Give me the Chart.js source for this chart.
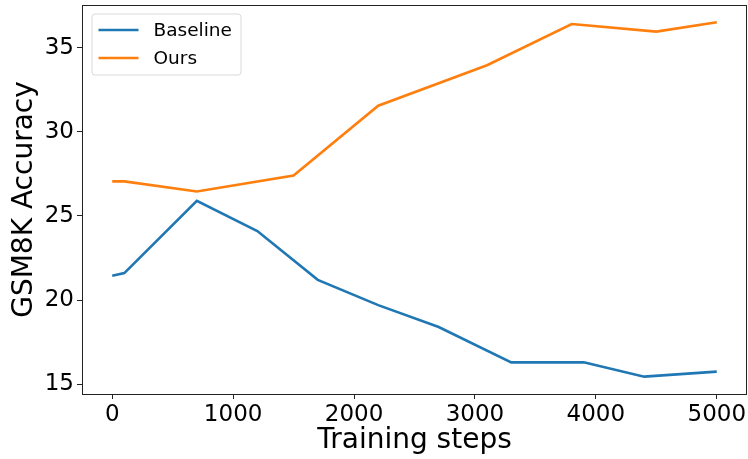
<!DOCTYPE html>
<html>
<head>
<meta charset="utf-8">
<script src="https://cdn.jsdelivr.net/npm/chart.js@4/dist/chart.umd.min.js"></script>
<style>
html,body{margin:0;padding:0;background:#fff;}
#wrap{width:748px;height:459px;position:relative;}
</style>
</head>
<body>
<div id="wrap"><canvas id="c" width="748" height="459"></canvas></div>
<script>
const baselineSteps = [0, 100, 700, 1200, 1700, 2200, 2700, 3300, 3900, 4400, 5000];
const baselineAcc   = [21.45, 21.6, 25.9, 24.1, 21.2, 19.7, 18.4, 16.3, 16.3, 15.45, 15.75];
const oursSteps     = [0, 100, 700, 1500, 2200, 3100, 3800, 4500, 5000];
const oursAcc       = [27.05, 27.05, 26.45, 27.4, 31.55, 33.95, 36.4, 35.95, 36.5];
const xTicks = [0, 1000, 2000, 3000, 4000, 5000];
const yTicks = [15, 20, 25, 30, 35];
const seriesLabels = ['Baseline', 'Ours'];
const FONT = "'DejaVu Sans', sans-serif";

const toPts = (xs, ys) => xs.map((x, i) => ({x: x, y: ys[i]}));

const framePlugin = {
  id: 'frame',
  afterDatasetsDraw(chart) {
    const {ctx, chartArea: a} = chart;
    ctx.save();
    ctx.strokeStyle = '#222';
    ctx.lineWidth = 1;
    ctx.strokeRect(Math.round(a.left) + 0.5, Math.round(a.top) + 0.5,
                   Math.round(a.right - a.left) - 1, Math.round(a.bottom - a.top));
    ctx.restore();
  }
};

const legendPlugin = {
  id: 'boxLegend',
  afterDraw(chart) {
    const {ctx, chartArea: a} = chart;
    const x0 = a.left + 10, y0 = a.top + 9, w = 149, h = 61;
    ctx.save();
    ctx.beginPath();
    const r = 3;
    ctx.moveTo(x0 + r, y0);
    ctx.arcTo(x0 + w, y0, x0 + w, y0 + h, r);
    ctx.arcTo(x0 + w, y0 + h, x0, y0 + h, r);
    ctx.arcTo(x0, y0 + h, x0, y0, r);
    ctx.arcTo(x0, y0, x0 + w, y0, r);
    ctx.closePath();
    ctx.fillStyle = 'rgba(255,255,255,0.8)';
    ctx.fill();
    ctx.strokeStyle = '#d9d9d9';
    ctx.lineWidth = 1;
    ctx.stroke();
    chart.data.datasets.forEach((ds, i) => {
      const yy = y0 + 16 + i * 28;
      ctx.beginPath();
      ctx.moveTo(x0 + 6.5, yy);
      ctx.lineTo(x0 + 46.5, yy);
      ctx.strokeStyle = ds.borderColor;
      ctx.lineWidth = 2.5;
      ctx.stroke();
      ctx.fillStyle = '#000';
      ctx.font = '18.5px ' + FONT;
      ctx.textBaseline = 'middle';
      ctx.fillText(ds.label, x0 + 61.5, yy + 1);
    });
    ctx.restore();
  }
};

const fixTicks = (vals) => (scale) => { scale.ticks = vals.map(v => ({value: v})); };

new Chart(document.getElementById('c'), {
  type: 'line',
  data: {
    datasets: [
      {label: seriesLabels[0], data: toPts(baselineSteps, baselineAcc), borderColor: '#1f77b4', backgroundColor: '#1f77b4', borderWidth: 2.6, pointRadius: 0, tension: 0, fill: false},
      {label: seriesLabels[1], data: toPts(oursSteps, oursAcc), borderColor: '#ff7f0e', backgroundColor: '#ff7f0e', borderWidth: 2.6, pointRadius: 0, tension: 0, fill: false}
    ]
  },
  options: {
    responsive: false,
    animation: false,
    devicePixelRatio: 1,
    layout: {padding: {top: 5, right: 1, left: 0, bottom: 0}},
    plugins: {legend: {display: false}, tooltip: {enabled: false}},
    scales: {
      x: {
        type: 'linear', min: -250, max: 5250,
        afterBuildTicks: fixTicks(xTicks),
        afterFit: (s) => { s.height = 65; s.paddingLeft = 0; s.paddingRight = 0; },
        border: {display: false},
        grid: {display: true, drawOnChartArea: false, drawTicks: true, tickLength: 5, color: '#222', lineWidth: 1},
        ticks: {color: '#000', font: {family: FONT, size: 23}, padding: 2, maxRotation: 0, autoSkip: false, callback: (v) => String(v)},
        title: {display: true, text: 'Training steps', color: '#000', font: {family: FONT, size: 28}, padding: {top: 0, bottom: 1}}
      },
      y: {
        type: 'linear', min: 14.42, max: 37.53,
        afterBuildTicks: fixTicks(yTicks),
        afterFit: (s) => { s.width = 82; s.paddingTop = 0; s.paddingBottom = 0; },
        border: {display: false},
        grid: {display: true, drawOnChartArea: false, drawTicks: true, tickLength: 5, color: '#222', lineWidth: 1},
        ticks: {color: '#000', font: {family: FONT, size: 23}, padding: 3, autoSkip: false, callback: (v) => String(v)},
        title: {display: true, text: 'GSM8K Accuracy', color: '#000', font: {family: FONT, size: 28}, padding: {top: 8, bottom: 0}}
      }
    }
  },
  plugins: [framePlugin, legendPlugin]
});
</script>
</body>
</html>
